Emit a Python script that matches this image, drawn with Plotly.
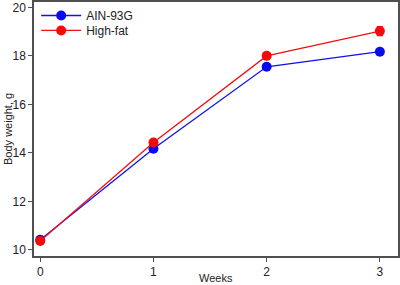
import plotly.graph_objects as go

weeks = [0, 1, 2, 3]
ain_93g = [10.42, 14.17, 17.55, 18.17]
ain_93g_err = [0.08, 0.1, 0.1, 0.12]
high_fat = [10.37, 14.43, 18.0, 19.02]
high_fat_err = [0.08, 0.1, 0.1, 0.18]
x_ticks = [0, 1, 2, 3]
y_ticks = [10, 12, 14, 16, 18, 20]

FONT = "Liberation Sans, Arial, sans-serif"

fig = go.Figure()
fig.add_trace(go.Scatter(
    x=weeks, y=ain_93g, name="AIN-93G", mode="lines+markers", legend="legend",
    line=dict(color="#1010ee", width=1.3),
    marker=dict(color="#0a0af0", size=10),
    error_y=dict(type="data", array=ain_93g_err, color="#0a0af0", thickness=1.3, width=3),
))
fig.add_trace(go.Scatter(
    x=weeks, y=high_fat, name="High-fat", mode="lines+markers", legend="legend2",
    line=dict(color="#f01010", width=1.3),
    marker=dict(color="#f50a0a", size=10),
    error_y=dict(type="data", array=high_fat_err, color="#f50a0a", thickness=1.3, width=3),
))

axis_common = dict(
    showgrid=False, zeroline=False, showline=True, linecolor="#505050", linewidth=1.5,
    ticks="outside", ticklen=4, tickcolor="#505050", tickwidth=1.2,
    tickfont=dict(family=FONT, size=12, color="#222222"),
    mirror=True, automargin=False,
)
fig.update_xaxes(range=[-0.055, 3.16], tickvals=x_ticks, **axis_common)
fig.update_yaxes(range=[9.75, 20.22], tickvals=y_ticks, **axis_common)

fig.add_annotation(text="Weeks", x=0.5, y=0, xref="paper", yref="paper",
                   xanchor="center", yanchor="middle", showarrow=False,
                   yshift=-22, font=dict(family=FONT, size=11, color="#222222"))
fig.add_annotation(text="Body weight, g", x=0, y=0.5, xref="paper", yref="paper",
                   xanchor="center", yanchor="middle", showarrow=False, textangle=-90,
                   xshift=-26, font=dict(family=FONT, size=11, color="#222222"))

legend_common = dict(xanchor="left", yanchor="top", bgcolor="rgba(0,0,0,0)",
                     font=dict(family=FONT, size=12, color="#222222"),
                     itemwidth=40)
fig.update_layout(
    width=400, height=285,
    margin=dict(l=34, r=2, t=2, b=29, autoexpand=False),
    paper_bgcolor="white", plot_bgcolor="white",
    showlegend=True,
    legend=dict(x=0.006, y=1.004, **legend_common),
    legend2=dict(x=0.006, y=0.945, **legend_common),
)

fig.write_html("out.html", post_script="document.body.style.margin='0';",
               config={"displayModeBar": False})
